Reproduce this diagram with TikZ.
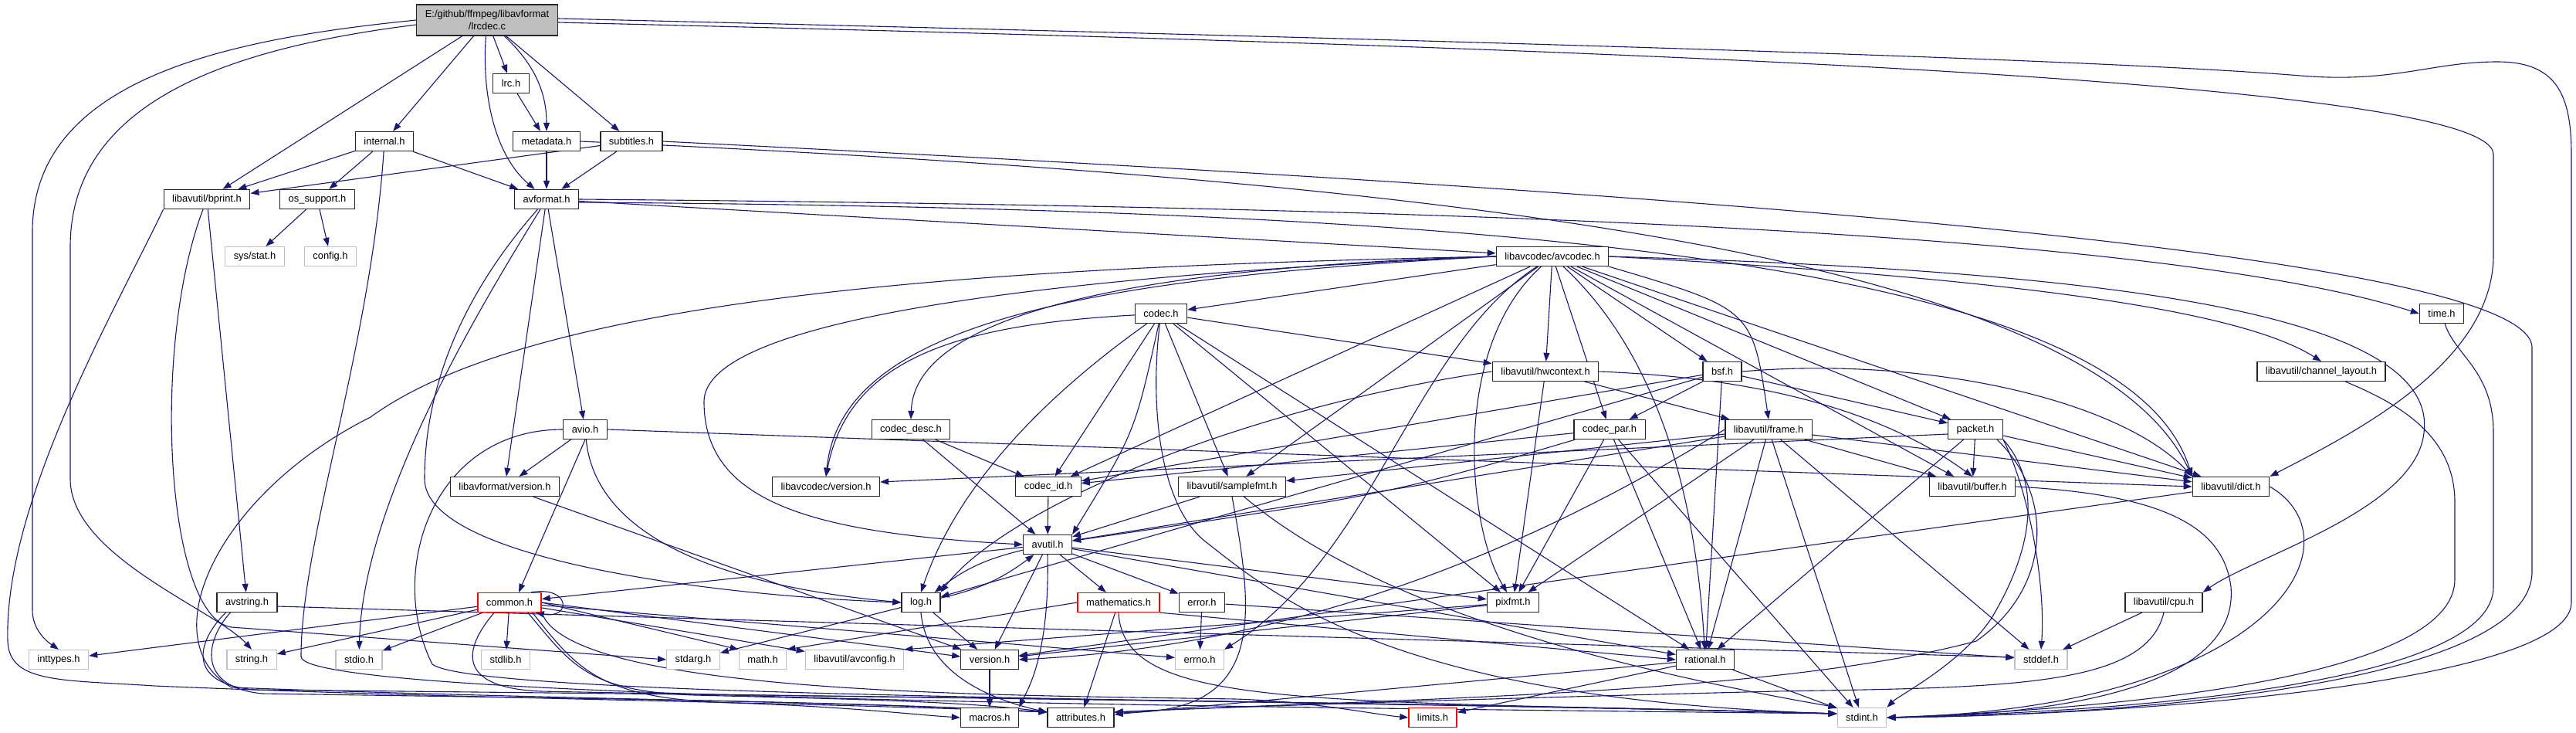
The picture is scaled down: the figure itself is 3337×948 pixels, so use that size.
\documentclass[tikz,border=0pt]{standalone}
\usepackage{fontspec}
\setsansfont{Liberation Sans}
\usepackage{tikz}
\usetikzlibrary{arrows.meta, backgrounds}
\definecolor{edgeblue}{HTML}{191970}
\definecolor{rootgray}{HTML}{BFBFBF}
\definecolor{sysgray}{HTML}{C0C0C0}

\begin{document}
\begin{tikzpicture}[
  x=1pt, y=1pt,
  hdr/.style={rectangle, draw=black!85, fill=white, line width=1.3pt,
              minimum height=25pt, inner xsep=11pt, inner ysep=0pt,
              font=\sffamily\fontsize{12.9}{15.5}\selectfont, text=black},
  syshdr/.style={hdr, draw=sysgray},
  cuthdr/.style={hdr, draw=red},
  srcfile/.style={hdr, fill=rootgray, minimum height=40pt, align=center},
  inc/.style={-{Triangle[length=11pt, width=8pt]}, line width=1.1pt, color=edgeblue},
]
\useasboundingbox (0,0) rectangle (3337,-948);

\node[srcfile] (lrcdec)      at (631,-26)   {E:/github/ffmpeg/libavformat\\/lrcdec.c};
\node[hdr]     (lrc)         at (662,-108)  {lrc.h};
\node[hdr]     (internal)    at (498,-183)  {internal.h};
\node[hdr]     (metadata)    at (708,-183)  {metadata.h};
\node[hdr]     (subtitles)   at (818,-183)  {subtitles.h};
\node[hdr]     (bprint)      at (268,-258)  {libavutil/bprint.h};
\node[hdr]     (ossupport)   at (411,-258)  {os\_support.h};
\node[hdr]     (avformat)    at (708,-258)  {avformat.h};
\node[syshdr]  (sysstat)     at (330,-332)  {sys/stat.h};
\node[syshdr]  (config)      at (428,-332)  {config.h};
\node[hdr]     (avcodec)     at (2011,-332) {libavcodec/avcodec.h};
\node[hdr]     (codec)       at (1504,-406) {codec.h};
\node[hdr]     (time)        at (3163,-406) {time.h};
\node[hdr]     (hwcontext)   at (2002,-481) {libavutil/hwcontext.h};
\node[hdr]     (bsf)         at (2231,-481) {bsf.h};
\node[hdr]     (chlayout)    at (3007,-481) {libavutil/channel\_layout.h};
\node[hdr]     (avio)        at (758,-556)  {avio.h};
\node[hdr]     (codecdesc)   at (1180,-556) {codec\_desc.h};
\node[hdr]     (codecpar)    at (2085,-556) {codec\_par.h};
\node[hdr]     (frame)       at (2291,-556) {libavutil/frame.h};
\node[hdr]     (packet)      at (2559,-556) {packet.h};
\node[hdr]     (lavfversion) at (654,-630)  {libavformat/version.h};
\node[hdr]     (lavcversion) at (1070,-630) {libavcodec/version.h};
\node[hdr]     (codecid)     at (1358,-630) {codec\_id.h};
\node[hdr]     (samplefmt)   at (1596,-630) {libavutil/samplefmt.h};
\node[hdr]     (buffer)      at (2555,-630) {libavutil/buffer.h};
\node[hdr]     (dict)        at (2890,-630) {libavutil/dict.h};
\node[hdr]     (avutil)      at (1357,-705) {avutil.h};
\node[hdr]     (avstring)    at (320,-780)  {avstring.h};
\node[cuthdr]  (common)      at (660,-780)  {common.h};
\node[hdr]     (log)         at (1193,-780) {log.h};
\node[cuthdr]  (mathematics) at (1449,-780) {mathematics.h};
\node[hdr]     (error)       at (1557,-780) {error.h};
\node[hdr]     (pixfmt)      at (1960,-780) {pixfmt.h};
\node[hdr]     (cpu)         at (2803,-780) {libavutil/cpu.h};
\node[syshdr]  (inttypes)    at (76,-854)   {inttypes.h};
\node[syshdr]  (string)      at (326,-854)  {string.h};
\node[syshdr]  (stdio)       at (465,-854)  {stdio.h};
\node[syshdr]  (stdlib)      at (655,-854)  {stdlib.h};
\node[syshdr]  (stdarg)      at (898,-854)  {stdarg.h};
\node[syshdr]  (math)        at (988,-854)  {math.h};
\node[syshdr]  (avconfig)    at (1107,-854) {libavutil/avconfig.h};
\node[hdr]     (version)     at (1282,-854) {version.h};
\node[syshdr]  (errno)       at (1554,-854) {errno.h};
\node[hdr]     (rational)    at (2209,-854) {rational.h};
\node[syshdr]  (stddef)      at (2644,-854) {stddef.h};
\node[hdr]     (macros)      at (1282,-929) {macros.h};
\node[hdr]     (attributes)  at (1400,-929) {attributes.h};
\node[cuthdr]  (limits)      at (1856,-929) {limits.h};
\node[syshdr]  (stdint)      at (2412,-929) {stdint.h};

\coordinate (attrin)   at ([yshift=7pt]attributes.west);
\coordinate (attrout)  at ([yshift=7pt]attributes.east);
\coordinate (stdintin) at ([yshift=5pt]stdint.west);

\begin{scope}[on background layer]
\fill[white] (0,0) rectangle (3337,-948);
\draw[inc] (lrcdec.west) .. controls (300,-50) and (42,-100) .. (42,-300) -- (42,-790) .. controls (42,-815) and (60,-830) .. (inttypes.north);
\draw[inc] ([yshift=-6pt]lrcdec.west) .. controls (300,-62) and (91,-130) .. (91,-320) -- (91,-620) .. controls (91,-720) and (280,-790) .. (string.north);
\draw[inc] ([yshift=2pt]lrcdec.east) .. controls (1800,-50) and (2700,-75) .. (2980,-98) .. controls (3100,-108) and (3150,-80) .. (3235,-80) .. controls (3310,-80) and (3331,-120) .. (3331,-200) -- (3331,-780) .. controls (3331,-880) and (2800,-925) .. (stdint.east);
\draw[inc] ([yshift=-3pt]lrcdec.east) .. controls (2000,-60) and (3230,-100) .. (3230,-200) -- (3230,-330) .. controls (3230,-470) and (3050,-560) .. (dict.north east);
\draw[inc] (lrcdec) -- (bprint);
\draw[inc] (lrcdec) -- (internal);
\draw[inc] (lrcdec) .. controls (624,-120) and (640,-200) .. (avformat);
\draw[inc] (lrcdec) -- (lrc);
\draw[inc] (lrcdec) .. controls (700,-90) and (708,-130) .. (metadata);
\draw[inc] (lrcdec) -- (subtitles);
\draw[inc] (lrc) -- (metadata);
\draw[inc] (metadata) -- (avformat);
\draw[inc] (metadata.east) .. controls (1800,-230) and (2700,-320) .. (dict.north west);
\draw[inc] (subtitles) -- (avformat);
\draw[inc] (subtitles) -- (bprint);
\draw[inc] (subtitles.east) .. controls (1800,-230) and (3280,-310) .. (3280,-450) -- (3280,-740) .. controls (3280,-880) and (2800,-925) .. (stdint.east);
\draw[inc] (internal) -- (bprint);
\draw[inc] (internal) -- (ossupport);
\draw[inc] (internal) -- (avformat);
\draw[inc] (internal) .. controls (480,-450) and (390,-700) .. (390,-850) .. controls (390,-905) and (1600,-915) .. (stdintin);
\draw[inc] (ossupport) -- (sysstat);
\draw[inc] (ossupport) -- (config);
\draw[inc] (bprint) -- (avstring);
\draw[inc] (bprint) .. controls (195,-450) and (215,-800) .. (300,-812) -- (stdarg.west);
\draw[inc] (bprint.south west) .. controls (150,-400) and (5,-650) .. (10,-830) .. controls (12,-885) and (80,-880) .. (200,-888) .. controls (600,-905) and (1000,-908) .. (attrin);
\draw[inc] ([yshift=-5pt]avstring.east) -- ([yshift=3pt]stddef.west);
\draw[inc] ([xshift=12pt]avstring.south west) .. controls (255,-830) and (240,-885) .. (330,-893) .. controls (1000,-900) and (1800,-908) .. (stdintin);
\draw[inc] ([xshift=18pt]avstring.south west) .. controls (265,-830) and (255,-890) .. (340,-898) .. controls (800,-905) and (1100,-908) .. (attrin);
\draw[inc] (avformat.east) .. controls (1900,-268) and (2800,-300) .. (time.west);
\draw[inc] (avformat) .. controls (620,-400) and (470,-650) .. (stdio);
\draw[inc] (avformat) -- (avcodec);
\draw[inc] ([yshift=-4pt]avformat.east) .. controls (1900,-270) and (2750,-330) .. (dict.north west);
\draw[inc] (avformat) .. controls (600,-380) and (550,-500) .. (550,-620) .. controls (550,-720) and (900,-770) .. (log.west);
\draw[inc] (avformat) -- (avio);
\draw[inc] (avformat) -- (lavfversion);
\draw[inc] (avio) -- (lavfversion);
\draw[inc] (avio.south) -- ([xshift=12pt]common.north);
\draw[inc] (avio) .. controls (770,-680) and (900,-755) .. (log.west);
\draw[inc] (avio.east) -- (dict.west);
\draw[inc] (avio.west) .. controls (560,-556) and (500,-740) .. (560,-860) .. controls (620,-905) and (1700,-905) .. (stdintin);
\draw[inc] (lavfversion) -- (version);
\draw[inc] (avcodec) .. controls (1830,-450) and (1780,-720) .. (errno.north east);
\draw[inc] (avcodec) -- (samplefmt);
\draw[inc] (avcodec.west) .. controls (1300,-345) and (700,-380) .. (480,-540) .. controls (280,-640) and (195,-830) .. (300,-890) .. controls (700,-905) and (1100,-908) .. (attrin);
\draw[inc] (avcodec.west) .. controls (1300,-360) and (912,-420) .. (912,-520) .. controls (912,-650) and (1050,-690) .. (avutil.west);
\draw[inc] (avcodec) -- (buffer);
\draw[inc] (avcodec.east) .. controls (2700,-350) and (3160,-400) .. (3140,-560) .. controls (3130,-660) and (2920,-720) .. (cpu.north east);
\draw[inc] (avcodec.east) .. controls (2600,-360) and (2900,-400) .. (chlayout.north);
\draw[inc] (avcodec) -- (dict);
\draw[inc] (avcodec.south east) .. controls (2270,-400) .. (frame.north);
\draw[inc] (avcodec) -- (hwcontext);
\draw[inc] (avcodec) .. controls (1880,-450) and (1900,-680) .. (pixfmt);
\draw[inc] (avcodec) .. controls (2170,-480) and (2200,-700) .. (rational);
\draw[inc] (avcodec) -- (bsf);
\draw[inc] (avcodec) -- (codec);
\draw[inc] (avcodec.west) .. controls (1500,-345) and (1185,-400) .. (codecdesc.north);
\draw[inc] (avcodec) -- (codecpar);
\draw[inc] (avcodec) -- (codecid);
\draw[inc] (avcodec) -- (packet);
\draw[inc] (avcodec.west) .. controls (1400,-360) and (1090,-420) .. (lavcversion.north);
\draw[inc] (codec) .. controls (1490,-520) and (1500,-650) .. (1560,-700) .. controls (1650,-770) and (1800,-905) .. (stdintin);
\draw[inc] (codec) .. controls (1470,-560) .. (avutil.north east);
\draw[inc] (codec) -- (hwcontext);
\draw[inc] (codec) .. controls (1400,-480) and (1250,-600) .. (log.north);
\draw[inc] (codec) -- (pixfmt);
\draw[inc] (codec) -- (rational);
\draw[inc] (codec) -- (samplefmt);
\draw[inc] (codec) -- (codecid);
\draw[inc] (codec) .. controls (1250,-420) and (1100,-460) .. (lavcversion.north);
\draw[inc] (codecdesc) -- (avutil);
\draw[inc] (codecdesc) -- (codecid);
\draw[inc] (codecid) -- (avutil);
\draw[inc] (codecpar) -- (stdint);
\draw[inc] (codecpar) .. controls (1800,-640) .. (avutil);
\draw[inc] (codecpar) -- (rational);
\draw[inc] (codecpar) -- (pixfmt);
\draw[inc] (codecpar) -- (codecid);
\draw[inc] (bsf.east) .. controls (2500,-460) and (2750,-520) .. (dict.north west);
\draw[inc] (bsf) -- (log);
\draw[inc] (bsf) -- (rational);
\draw[inc] (bsf) -- (codecid);
\draw[inc] (bsf) -- (codecpar);
\draw[inc] (bsf) -- (packet);
\draw[inc] (packet.south east) .. controls (2630,-640) and (2650,-760) .. (stddef.north);
\draw[inc] (packet.south east) .. controls (2640,-620) and (2640,-700) .. (2580,-800) .. controls (2540,-860) and (2460,-900) .. (stdint.north east);
\draw[inc] ([xshift=-8pt]packet.south east) .. controls (2660,-640) and (2660,-760) .. (2560,-830) .. controls (2300,-900) and (1800,-905) .. (attrout);
\draw[inc] (packet) -- (buffer);
\draw[inc] (packet) -- (dict);
\draw[inc] (packet) -- (rational);
\draw[inc] ([yshift=-6pt]packet.west) -- ([yshift=6pt]lavcversion.east);
\draw[inc] (hwcontext.east) .. controls (2300,-490) and (2450,-540) .. (buffer.north);
\draw[inc] (hwcontext) -- (frame);
\draw[inc] (hwcontext.west) .. controls (1600,-530) and (1300,-660) .. (log.north east);
\draw[inc] (hwcontext) -- (pixfmt);
\draw[inc] (frame) -- (stddef);
\draw[inc] (frame) -- (stdint);
\draw[inc] (frame) -- (avutil);
\draw[inc] (frame) -- (buffer);
\draw[inc] (frame) -- (dict);
\draw[inc] (frame) -- (rational);
\draw[inc] (frame) -- (samplefmt);
\draw[inc] (frame) -- (pixfmt);
\draw[inc] (frame.west) .. controls (2000,-700) and (1700,-835) .. (version.east);
\draw[inc] (buffer.east) .. controls (2800,-640) and (2880,-680) .. (2890,-760) .. controls (2900,-880) and (2700,-925) .. (stdint.east);
\draw[inc] (dict.east) .. controls (3060,-700) and (2950,-915) .. (stdint.east);
\draw[inc] (dict) -- (version);
\draw[inc] (samplefmt) .. controls (1750,-760) and (2000,-850) .. (stdint.north west);
\draw[inc] (samplefmt) -- (avutil);
\draw[inc] (samplefmt.south) .. controls (1625,-800) and (1640,-925) .. (attrout);
\draw[inc] (cpu) -- (stddef);
\draw[inc] (cpu.south) .. controls (2780,-890) and (2600,-890) .. (2300,-895) .. controls (1900,-905) and (1600,-915) .. (attrout);
\draw[inc] (chlayout) .. controls (3100,-520) and (3180,-560) .. (3180,-650) -- (3180,-750) .. controls (3180,-870) and (2800,-915) .. (stdint.east);
\draw[inc] (time) .. controls (3180,-460) and (3230,-480) .. (3230,-560) -- (3230,-760) .. controls (3230,-880) and (2800,-920) .. (stdint.east);
\draw[inc] (avutil) -- (common);
\draw[inc] (avutil) -- (error);
\draw[inc] (avutil) -- (rational);
\draw[inc] (avutil) -- (version);
\draw[inc] (avutil.south) .. controls (1360,-850) and (1330,-895) .. (macros.north east);
\draw[inc] (avutil) -- (mathematics);
\draw[inc] (avutil) to[bend right=12] (log);
\draw[inc] (avutil) -- (pixfmt);
\draw[inc] (log) to[bend right=12] (avutil);
\draw[inc] (log) -- (stdarg);
\draw[inc] (log.south) .. controls (1200,-870) and (1280,-905) .. (attrin);
\draw[inc] (log) -- (version);
\draw[inc] (mathematics.south) .. controls (1455,-920) and (1700,-905) .. (stdintin);
\draw[inc] (mathematics.west) -- (math.north east);
\draw[inc] (mathematics) -- (attributes);
\draw[inc] (mathematics.south east) -- (rational.west);
\draw[inc] (error) -- (errno);
\draw[inc] (error) -- (stddef);
\draw[inc] (pixfmt) -- (avconfig.north east);
\draw[inc] (pixfmt) -- (version);
\draw[inc] (rational) -- (stdint);
\draw[inc] (rational) -- (limits);
\draw[inc] (rational) -- (attributes);
\draw[inc] (version) -- (macros);
\draw[inc] (common) -- (errno);
\draw[inc] (common) -- (inttypes);
\draw[inc] (common.south east) .. controls (740,-900) and (1300,-900) .. (1600,-905) .. controls (1700,-908) and (1780,-925) .. (limits.west);
\draw[inc] (common.east) -- (math.north west);
\draw[inc] ([xshift=22pt]common.south west) .. controls (600,-840) and (590,-890) .. (700,-895) .. controls (1200,-905) and (1800,-908) .. (stdintin);
\draw[inc] (common) -- (stdio);
\draw[inc] (common) -- (stdlib);
\draw[inc] (common) -- (string);
\draw[inc] ([xshift=-18pt]common.south east) .. controls (740,-860) and (760,-895) .. (900,-900) .. controls (1100,-905) and (1250,-908) .. (attrin);
\draw[inc] ([xshift=-12pt]common.south east) .. controls (750,-870) and (780,-905) .. (950,-910) .. controls (1100,-915) and (1180,-925) .. (macros.west);
\draw[inc] (common.east) -- ([yshift=4pt]version.west);
\draw[inc] (common) -- (avconfig);
\draw[inc] ([xshift=-14pt]common.north east) .. controls (740,-758) and (740,-802) .. ([xshift=-8pt]common.south east);
\end{scope}
\end{tikzpicture}
\end{document}
